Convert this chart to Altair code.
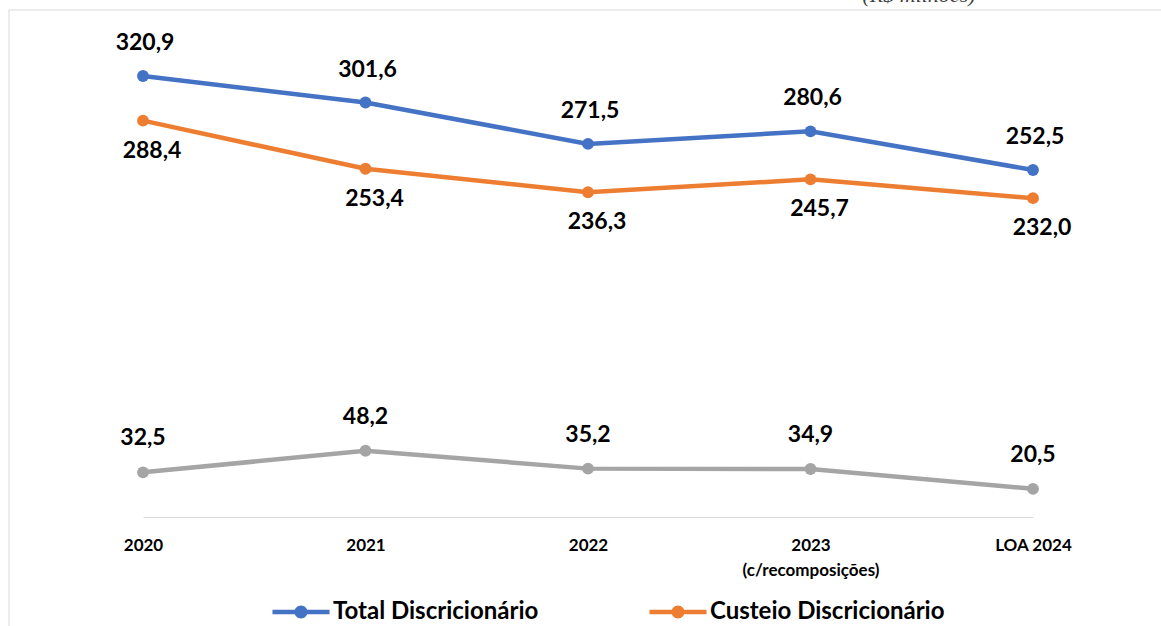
import altair as alt
import pandas as pd

categories = ["2020", "2021", "2022", "2023 (c/recomposições)", "LOA 2024"]
total = [320.9, 301.6, 271.5, 280.6, 252.5]
custeio = [288.4, 253.4, 236.3, 245.7, 232.0]
invest = [32.5, 48.2, 35.2, 34.9, 20.5]
series_names = ["Total Discricionário", "Custeio Discricionário", "Investimento Discricionário"]
colors = ["#4472C4", "#ED7D31", "#A5A5A5"]
unit_text = "(R$ milhões)"

rows = []
for name, vals in zip(series_names, [total, custeio, invest]):
    for c, v in zip(categories, vals):
        rows.append({"ano": c, "serie": name, "valor": v,
                     "rotulo": f"{v:.1f}".replace(".", ",")})
df = pd.DataFrame(rows)

legend_symbol = ("M-1.6,-0.126H1.6V0.126H-1.6Z "
                 "M0.365,0A0.365,0.365,0,1,1,-0.365,0A0.365,0.365,0,1,1,0.365,0Z")

x_enc = alt.X(
    "ano:N", sort=categories,
    scale=alt.Scale(type="point", padding=0),
    axis=alt.Axis(
        title=None, labelAngle=0, labelFont="Lato", labelFontWeight="bold",
        labelFontSize=17, labelColor="#000000", labelPadding=20, ticks=False,
        domainColor="#d9d9d9", domainWidth=1, grid=False, labelLineHeight=25,
        labelExpr="datum.value == '2023 (c/recomposições)' ? ['2023', '(c/recomposições)'] : datum.value",
    ),
)
y_enc = alt.Y("valor:Q", scale=alt.Scale(domain=[0, 350], nice=False, zero=True), axis=None)
color_scale = alt.Scale(domain=series_names, range=colors)

base = alt.Chart(df)

points = base.mark_circle(size=140, opacity=1).encode(
    x=x_enc, y=y_enc,
    color=alt.Color(
        "serie:N", scale=color_scale,
        legend=alt.Legend(
            title=None, orient="none", legendX=140, legendY=558,
            direction="horizontal", values=series_names[:2],
            symbolType=legend_symbol, symbolSize=1270, symbolStrokeWidth=0,
            labelFont="Lato", labelFontWeight="bold", labelFontSize=24,
            labelColor="#000000", labelOffset=14, columnPadding=110,
            padding=0, labelLimit=400,
        ),
    ),
)

lines = base.mark_line(strokeWidth=4.5).encode(
    x=x_enc, y=y_enc,
    color=alt.Color("serie:N", scale=color_scale, legend=None),
)

def labels(name, dx, dy):
    return base.transform_filter(alt.datum.serie == name).mark_text(
        font="Lato", fontWeight="bold", fontSize=23, color="#000000",
        dx=dx, dy=dy, baseline="middle", align="center",
    ).encode(x=x_enc, y=y_enc, text="rotulo:N")

lab_total = labels(series_names[0], 2, -33)
lab_custeio = labels(series_names[1], 9, 30)
lab_invest = labels(series_names[2], 0, -34)

border_df = pd.DataFrame({"k": [0]})
border_v = alt.Chart(border_df).mark_rule(color="#d9d9d9", strokeWidth=1).encode(
    x=alt.value(-134), y=alt.value(-26), y2=alt.value(600))
border_h = alt.Chart(border_df).mark_rule(color="#d9d9d9", strokeWidth=1).encode(
    x=alt.value(-134), x2=alt.value(1030), y=alt.value(-26))

unit = alt.Chart(pd.DataFrame({"t": [unit_text]})).mark_text(
    font="Liberation Serif", fontStyle="italic", fontSize=22,
    baseline="alphabetic", align="center", color="#404040",
).encode(x=alt.value(776), y=alt.value(-34), text="t:N")

chart = alt.layer(
    border_v, border_h, points, lines, lab_total, lab_custeio, lab_invest, unit
).properties(
    width=890, height=481,
    padding={"left": 143, "top": 36, "right": 128, "bottom": 109},
    autosize="none",
    background="white",
).configure_view(stroke=None)

chart.save("out.html", embed_options={"renderer": "svg", "actions": False})
